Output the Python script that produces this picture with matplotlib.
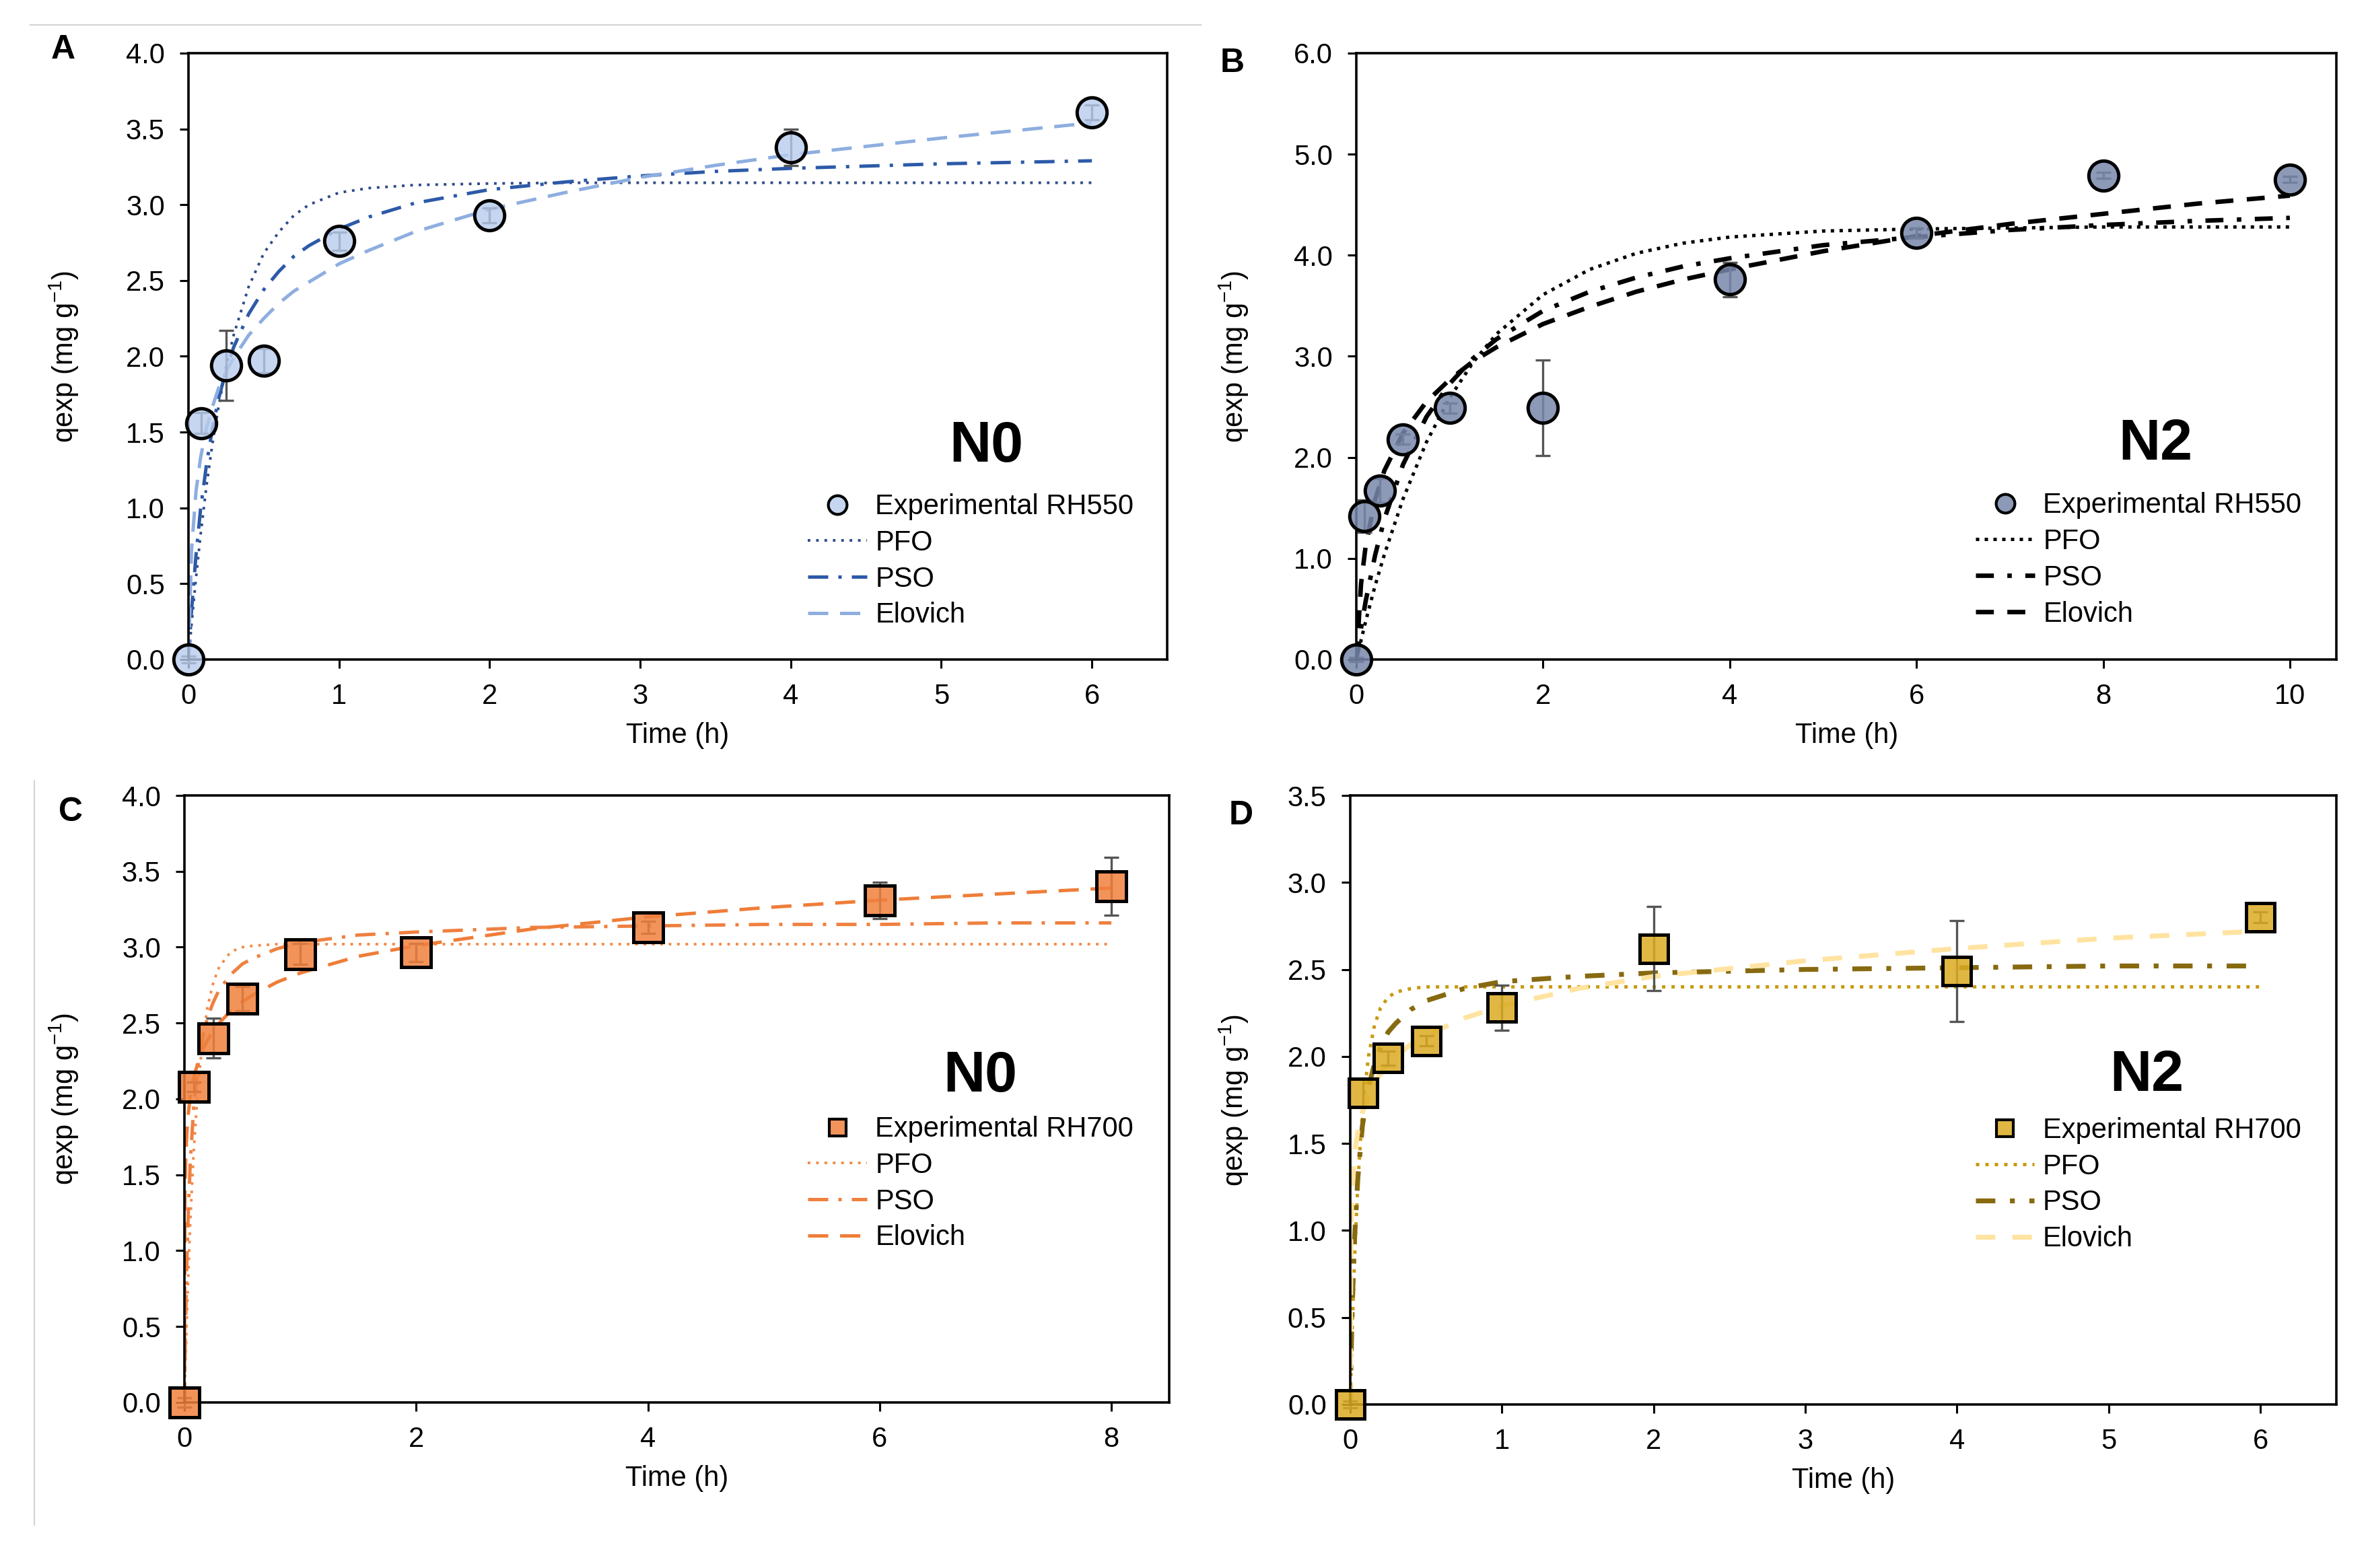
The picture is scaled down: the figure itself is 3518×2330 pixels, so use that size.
import matplotlib
matplotlib.use('Agg')
import matplotlib.pyplot as plt
from matplotlib.lines import Line2D
import numpy as np

plt.rcParams['font.family'] = ['Liberation Sans', 'DejaVu Sans']
plt.rcParams['mathtext.default'] = 'regular'

# experimental points (time in h, qexp in mg/g, error bar half-height)
t_a = [0, 0.083, 0.25, 0.5, 1, 2, 4, 6]
q_a = [0, 1.56, 1.94, 1.97, 2.76, 2.93, 3.38, 3.61]
e_a = [0.02, 0.07, 0.23, 0.08, 0.06, 0.05, 0.12, 0.05]

t_b = [0, 0.083, 0.25, 0.5, 1, 2, 4, 6, 8, 10]
q_b = [0, 1.42, 1.67, 2.18, 2.49, 2.49, 3.76, 4.22, 4.79, 4.75]
e_b = [0.02, 0.16, 0.12, 0.05, 0.05, 0.47, 0.17, 0.05, 0.03, 0.03]

t_c = [0, 0.083, 0.25, 0.5, 1, 2, 4, 6, 8]
q_c = [0, 2.08, 2.40, 2.66, 2.955, 2.965, 3.13, 3.31, 3.40]
e_c = [0.03, 0.03, 0.13, 0.08, 0.07, 0.06, 0.04, 0.12, 0.19]

t_d = [0, 0.083, 0.25, 0.5, 1, 2, 4, 6]
q_d = [0, 1.79, 1.99, 2.09, 2.28, 2.62, 2.49, 2.80]
e_d = [0.02, 0.08, 0.04, 0.03, 0.13, 0.24, 0.29, 0.03]

# fitted model curves
g_a = [0, 0.02, 0.05, 0.08, 0.12, 0.16, 0.2, 0.25, 0.3, 0.4, 0.5, 0.6, 0.7, 0.8, 1.0, 1.2, 1.5, 2.0, 2.5, 3.0, 3.5, 4.0, 5.0, 6.0]
pfo_a = [0, 0.23, 0.54, 0.82, 1.15, 1.43, 1.67, 1.93, 2.14, 2.46, 2.68, 2.82, 2.93, 3.00, 3.08, 3.11, 3.13, 3.14, 3.145, 3.145, 3.145, 3.145, 3.145, 3.145]
pso_a = [0, 0.32, 0.69, 0.99, 1.29, 1.53, 1.72, 1.91, 2.06, 2.28, 2.44, 2.56, 2.66, 2.73, 2.84, 2.92, 3.01, 3.10, 3.15, 3.19, 3.22, 3.24, 3.27, 3.29]
elo_a = [0, 0.72, 1.11, 1.33, 1.53, 1.67, 1.79, 1.90, 1.99, 2.14, 2.25, 2.35, 2.43, 2.49, 2.61, 2.70, 2.82, 2.97, 3.08, 3.18, 3.26, 3.33, 3.44, 3.54]

g_b = [0, 0.05, 0.1, 0.2, 0.3, 0.5, 0.75, 1.0, 1.25, 1.5, 2.0, 2.5, 3, 3.5, 4, 5, 6, 7, 8, 9, 10]
pfo_b = [0, 0.19, 0.38, 0.73, 1.04, 1.59, 2.15, 2.59, 2.94, 3.22, 3.61, 3.86, 4.02, 4.12, 4.18, 4.24, 4.26, 4.27, 4.28, 4.28, 4.28]
pso_b = [0, 0.31, 0.58, 1.03, 1.39, 1.93, 2.40, 2.73, 2.98, 3.17, 3.45, 3.64, 3.78, 3.89, 3.97, 4.10, 4.18, 4.25, 4.30, 4.34, 4.37]
elo_b = [0, 0.75, 1.13, 1.58, 1.87, 2.24, 2.55, 2.77, 2.95, 3.09, 3.32, 3.49, 3.64, 3.76, 3.86, 4.04, 4.19, 4.31, 4.41, 4.51, 4.59]

g_c = [0, 0.005, 0.01, 0.02, 0.03, 0.05, 0.08, 0.12, 0.16, 0.2, 0.25, 0.3, 0.4, 0.5, 0.6, 0.8, 1.0, 1.5, 2, 3, 4, 5, 6, 7, 8]
pfo_c = [0, 0.15, 0.29, 0.55, 0.78, 1.19, 1.66, 2.11, 2.41, 2.61, 2.77, 2.87, 2.97, 3.00, 3.01, 3.02, 3.02, 3.02, 3.02, 3.02, 3.02, 3.02, 3.02, 3.02, 3.02]
pso_c = [0, 0.29, 0.52, 0.90, 1.18, 1.58, 1.95, 2.24, 2.42, 2.54, 2.64, 2.72, 2.82, 2.89, 2.93, 2.99, 3.03, 3.08, 3.10, 3.13, 3.14, 3.15, 3.15, 3.16, 3.16]
elo_c = [0, 1.40, 1.58, 1.77, 1.88, 2.02, 2.14, 2.25, 2.33, 2.39, 2.45, 2.50, 2.58, 2.64, 2.69, 2.77, 2.83, 2.94, 3.01, 3.12, 3.20, 3.26, 3.31, 3.35, 3.39]

g_d = [0, 0.005, 0.01, 0.02, 0.03, 0.05, 0.08, 0.12, 0.16, 0.2, 0.25, 0.3, 0.4, 0.5, 0.75, 1.0, 1.5, 2, 3, 4, 5, 6]
pfo_d = [0, 0.17, 0.33, 0.62, 0.87, 1.27, 1.68, 2.00, 2.18, 2.28, 2.34, 2.37, 2.39, 2.40, 2.40, 2.40, 2.40, 2.40, 2.40, 2.40, 2.40, 2.40]
pso_d = [0, 0.24, 0.44, 0.75, 0.98, 1.30, 1.60, 1.82, 1.96, 2.05, 2.14, 2.19, 2.27, 2.32, 2.39, 2.43, 2.46, 2.48, 2.50, 2.51, 2.52, 2.52]
elo_d = [0, 1.02, 1.19, 1.35, 1.45, 1.57, 1.68, 1.78, 1.85, 1.90, 1.96, 2.00, 2.07, 2.12, 2.22, 2.29, 2.39, 2.46, 2.55, 2.62, 2.68, 2.72]

fig = plt.figure(figsize=(17.59, 11.65), dpi=200)

panels = [
    dict(pos=[0.0796, 0.5794, 0.4133, 0.3867], t=t_a, q=q_a, e=e_a, g=g_a, fits=[pfo_a, pso_a, elo_a],
         xmax=6.5, ymax=4.0, xt=range(0, 7), yt=np.arange(0, 4.01, 0.5),
         mk='o', ms=16, mfc=(0.72, 0.80, 0.93, 0.8),
         cols=['#2e4a87', '#2d5aa8', '#8eaee0'], lws=[1.4, 1.8, 1.8],
         ls=[(0, (1, 2.2)), (0, (6, 3, 1, 3)), (0, (6, 3.5))],
         lab='Experimental RH550', txt='N0', tpos=(0.815, 0.351), lpos=(0.633, 0.274),
         ylc=-0.127, plab='A', ppos=(0.0267, 0.9682)),
    dict(pos=[0.5728, 0.5794, 0.4139, 0.3867], t=t_b, q=q_b, e=e_b, g=g_b, fits=[pfo_b, pso_b, elo_b],
         xmax=10.5, ymax=6.0, xt=range(0, 11, 2), yt=np.arange(0, 6.01, 1.0),
         mk='o', ms=16, mfc=(0.47, 0.53, 0.67, 0.85),
         cols=['black', 'black', 'black'], lws=[1.8, 2.4, 2.4],
         ls=[(0, (1, 1.6)), (0, (4, 3, 1, 3)), (0, (4, 3))],
         lab='Experimental RH550', txt='N2', tpos=(0.815, 0.354), lpos=(0.632, 0.276),
         ylc=-0.125, plab='B', ppos=(0.5205, 0.9597)),
    dict(pos=[0.0779, 0.1056, 0.4159, 0.3871], t=t_c, q=q_c, e=e_c, g=g_c, fits=[pfo_c, pso_c, elo_c],
         xmax=8.5, ymax=4.0, xt=range(0, 9, 2), yt=np.arange(0, 4.01, 0.5),
         mk='s', ms=16, mfc=(0.94, 0.50, 0.24, 0.85),
         cols=['#f28a48', '#ef8040', '#ef7d38'], lws=[1.4, 1.8, 1.8],
         ls=[(0, (1, 2.2)), (0, (6, 3, 1, 3)), (0, (6, 3.5))],
         lab='Experimental RH700', txt='N0', tpos=(0.808, 0.537), lpos=(0.633, 0.472),
         ylc=-0.122, plab='C', ppos=(0.0298, 0.482)),
    dict(pos=[0.5702, 0.1043, 0.4164, 0.3884], t=t_d, q=q_d, e=e_d, g=g_d, fits=[pfo_d, pso_d, elo_d],
         xmax=6.5, ymax=3.5, xt=range(0, 7), yt=np.arange(0, 3.51, 0.5),
         mk='s', ms=15, mfc=(0.86, 0.67, 0.13, 0.85),
         cols=['#c99a10', '#876a10', '#ffe3a0'], lws=[1.8, 2.6, 2.6],
         ls=[(0, (1, 1.8)), (0, (4, 3, 1, 3)), (0, (4, 3.5))],
         lab='Experimental RH700', txt='N2', tpos=(0.808, 0.539), lpos=(0.634, 0.472),
         ylc=-0.118, plab='D', ppos=(0.5242, 0.4798)),
]

for p in panels:
    ax = fig.add_axes(p['pos'])
    handles = []
    for fit, col, lw, ls in zip(p['fits'], p['cols'], p['lws'], p['ls']):
        h, = ax.plot(p['g'], fit, color=col, lw=lw, linestyle=ls, zorder=2)
        handles.append(h)
    ax.errorbar(p['t'], p['q'], yerr=p['e'], fmt='none', ecolor='#555555', elinewidth=1.2,
                capsize=4, capthick=1.2, zorder=2.5, clip_on=False)
    ax.plot(p['t'], p['q'], p['mk'], ms=p['ms'], mfc=p['mfc'], mec='black', mew=1.8,
            zorder=3, clip_on=False, linestyle='none')
    ax.set_xlim(0, p['xmax'])
    ax.set_ylim(0, p['ymax'])
    ax.set_xticks(list(p['xt']))
    ax.set_yticks(p['yt'])
    ax.set_yticklabels(['%.1f' % v for v in p['yt']])
    ax.tick_params(direction='out', length=4.7, width=1.1, labelsize=15, pad=8, top=False, right=False)
    for s in ax.spines.values():
        s.set_linewidth(1.3)
    ax.set_xlabel('Time (h)', fontsize=15)
    ax.xaxis.set_label_coords(0.5, -0.125)
    ax.xaxis.label.set_va('center')
    ax.set_ylabel('qexp (mg g$^{-1}$)', fontsize=15)
    ax.yaxis.set_label_coords(p['ylc'], 0.5)
    ax.yaxis.label.set_va('center')
    ax.text(p['tpos'][0], p['tpos'][1], p['txt'], transform=ax.transAxes, fontsize=31,
            fontweight='bold', ha='center', va='center')
    mh = Line2D([], [], marker=p['mk'], ms=10 if p['mk'] == 'o' else 9, mfc=p['mfc'],
                mec='black', mew=1.5, linestyle='none')
    ax.legend([mh] + handles, [p['lab'], 'PFO', 'PSO', 'Elovich'], loc='upper left',
              bbox_to_anchor=p['lpos'], frameon=False, fontsize=15, handlelength=2.1,
              handletextpad=0.3, borderpad=0, borderaxespad=0, labelspacing=0.33)
    fig.text(p['ppos'][0], p['ppos'][1], p['plab'], fontsize=18, fontweight='bold',
             ha='center', va='center')

# faint page rules from the source figure
fig.add_artist(Line2D([45 / 3518, 1784 / 3518], [1 - 37 / 2330, 1 - 37 / 2330], color='#d4d4d4', lw=0.8))
fig.add_artist(Line2D([51 / 3518, 51 / 3518], [1 - 1160 / 2330, 1 - 2266 / 2330], color='#d4d4d4', lw=0.8))

fig.savefig('out.png', dpi=200)
